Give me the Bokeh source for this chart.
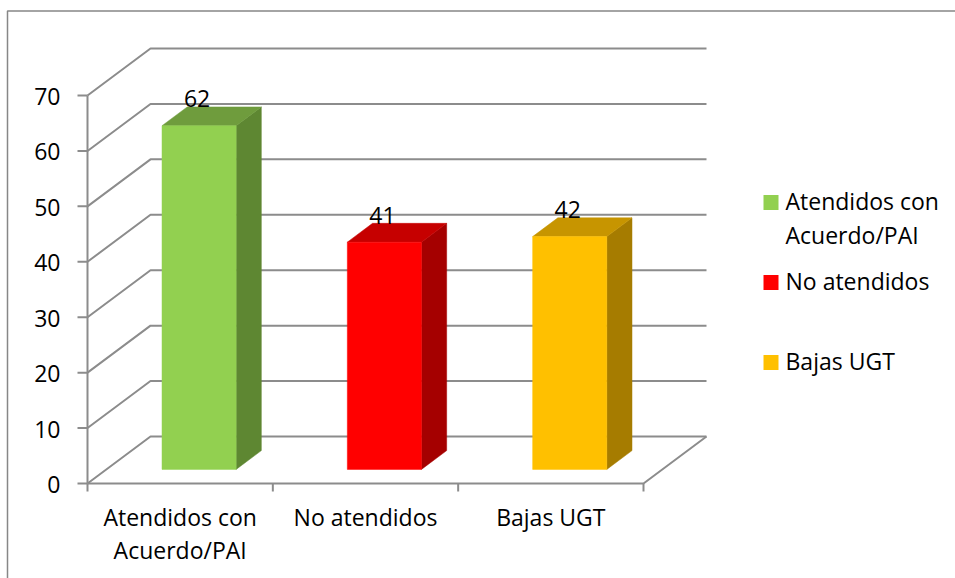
from bokeh.plotting import figure
from bokeh.models import Range1d
from bokeh.core.properties import value
from bokeh.embed import file_html
from bokeh.resources import INLINE

# ---- data ----
categories = ["Atendidos con\nAcuerdo/PAI", "No atendidos", "Bajas UGT"]
values = [62, 41, 42]
front_colors = ["#92D050", "#FF0000", "#FFC000"]
top_colors = ["#6F9C3D", "#C60000", "#C79500"]
side_colors = ["#5E8732", "#A50000", "#A67C00"]
y_ticks = [0, 10, 20, 30, 40, 50, 60, 70]

# ---- geometry (pixel scale of the original chart) ----
W, H = 955, 578
SX = 556 / 3.0          # px per category
SY = 388 / 70.0         # px per value unit
ORX, ORY = 87, 483      # screen position of (0, 0)
PAGE = 0
TSHIFT = 9              # text baseline correction (px)

def X(scr):
    return (scr - ORX) / SX

def Y(scr):
    return (ORY - scr) / SY

DX, DY = 63 / SX, 47 / SY      # full depth offset
F1, F2 = 0.3, 0.7              # bar depth band
BW = 0.4                       # bar width (gap 150%)

p = figure(width=W, height=H, output_backend="svg", toolbar_location=None,
           x_range=Range1d(X(PAGE), X(PAGE + W)),
           y_range=Range1d(Y(PAGE + H), Y(PAGE)),
           min_border=0, outline_line_color=None)
p.axis.visible = False
p.grid.visible = False
p.background_fill_color = "white"
p.border_fill_color = "white"

GRID = "#8c8c8c"
FONT = value("Open Sans")
FS = "23px"
n = len(categories)

# outer chart border (top & left visible)
p.line([X(7), X(7), X(PAGE + W)], [Y(PAGE + H), Y(10.5), Y(10.5)],
       line_color="#878787", line_width=1.5)

# gridlines: left wall diagonal + back wall horizontal
gx, gy = [], []
for v in y_ticks:
    gx.append([0, DX, n + DX])
    gy.append([v, v + DY, v + DY])
p.multi_line(gx, gy, line_color=GRID, line_width=2)

# floor front & right edges
p.line([0, n, n + DX], [0, 0, DY], line_color=GRID, line_width=2)
# front vertical axis
p.line([0, 0], [0, max(y_ticks)], line_color=GRID, line_width=2)
# y ticks
p.segment(x0=[X(77)] * len(y_ticks), y0=y_ticks, x1=[0] * len(y_ticks), y1=y_ticks,
          line_color=GRID, line_width=2)
# x ticks (category boundaries)
p.segment(x0=list(range(n + 1)), y0=[0] * (n + 1), x1=list(range(n + 1)),
          y1=[Y(491)] * (n + 1), line_color=GRID, line_width=2)

# y tick labels
p.text(x=[X(60)] * len(y_ticks), y=[v - (9 - 8) / SY for v in y_ticks],
       text=[str(v) for v in y_ticks], text_align="right", text_baseline="alphabetic",
       text_font=FONT, text_font_size=FS, text_color="black")

# bars
fx, fy, tx, ty, sxs, sys_ = [], [], [], [], [], []
ddx, ddy = (F2 - F1) * DX, (F2 - F1) * DY
for i, v in enumerate(values):
    xl = i + 0.5 - BW / 2 + F1 * DX
    xr = xl + BW
    yb = F1 * DY
    yt = v + F1 * DY
    fx.append([xl, xr, xr, xl]); fy.append([yb, yb, yt, yt])
    tx.append([xl, xr, xr + ddx, xl + ddx]); ty.append([yt, yt, yt + ddy, yt + ddy])
    sxs.append([xr, xr + ddx, xr + ddx, xr]); sys_.append([yb, yb + ddy, yt + ddy, yt])
p.patches(sxs, sys_, fill_color=side_colors, line_color=side_colors, line_width=0.5)
p.patches(tx, ty, fill_color=top_colors, line_color=top_colors, line_width=0.5)
p.patches(fx, fy, fill_color=front_colors, line_color=front_colors, line_width=0.5)

# data labels
p.text(x=[i + 0.5 + F1 * DX - 2 / SX for i in range(n)],
       y=[v + F2 * DY + (TSHIFT - 1) / SY for v in values],
       text=[str(v) for v in values], text_align="center", text_baseline="alphabetic",
       text_font=FONT, text_font_size=FS, text_color="black")

# category labels
lx, ly, lt = [], [], []
for i, c in enumerate(categories):
    for k, line in enumerate(c.split("\n")):
        lx.append(i + 0.5); ly.append(Y(525 - TSHIFT + 33 * k)); lt.append(line)
p.text(x=lx, y=ly, text=lt, text_align="center", text_baseline="alphabetic",
       text_font=FONT, text_font_size=FS, text_color="black")

# legend
leg_base = [209, 289, 369]
p.rect(x=[X(770.5)] * n, y=[Y(b - 7) for b in leg_base], width=15, height=15,
       width_units="screen", height_units="screen",
       fill_color=front_colors, line_color=None)
gx2, gy2, gt2 = [], [], []
for i, c in enumerate(categories):
    for k, line in enumerate(c.split("\n")):
        gx2.append(X(785)); gy2.append(Y(leg_base[i] - TSHIFT + 34 * k)); gt2.append(line)
p.text(x=gx2, y=gy2, text=gt2, text_align="left", text_baseline="alphabetic",
       text_font=FONT, text_font_size=FS, text_color="black")

open("out.html", "w").write(file_html(p, INLINE))
